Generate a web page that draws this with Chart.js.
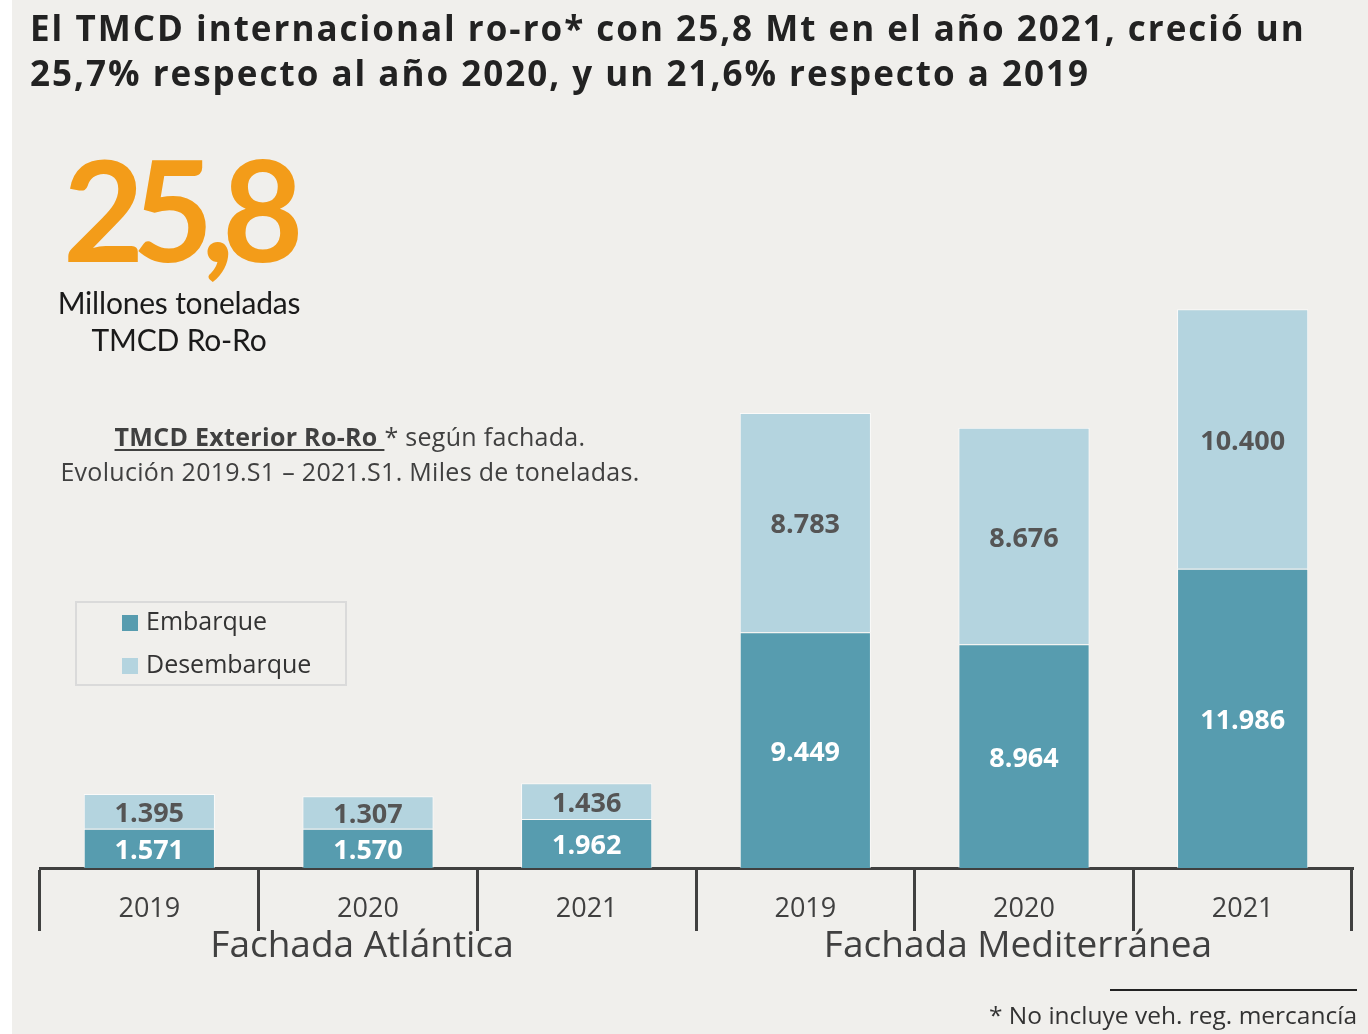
<!DOCTYPE html>
<html lang="es">
<head>
<meta charset="utf-8">
<title>TMCD Exterior Ro-Ro</title>
<script src="https://cdn.jsdelivr.net/npm/chart.js"></script>
<style>
  html, body { margin: 0; padding: 0; background: #fff; }
  #page { position: relative; width: 1368px; height: 1034px; overflow: hidden; font-family: "Open Sans", sans-serif; }
  #bg { position: absolute; left: 12px; top: 0; right: 0; bottom: 0; background: #f0efec; }
  #myChart { position: absolute; left: 0; top: 0; }
  .txt { position: absolute; white-space: nowrap; }
  #title { left: 30px; top: 5px; font-weight: 700; font-size: 35px; line-height: 45px; color: #222; letter-spacing: 2px; }
  #big { left: 63px; top: 138px; font-family: Lato, sans-serif; font-weight: 700; font-size: 140px; line-height: 140px; color: #f39c19; letter-spacing: -12px; }
  #unit { left: 29px; width: 300px; top: 284px; text-align: center; font-family: Lato, sans-serif; font-size: 30px; line-height: 37px; color: #1a1a1a; letter-spacing: -0.2px; }
  #sub { left: 50px; width: 600px; top: 419px; text-align: center; font-size: 25px; line-height: 35px; color: #404040; letter-spacing: 0.3px; }
  #sub b { text-decoration: underline; text-decoration-thickness: 2px; text-underline-offset: 3px; }
  #legend { position: absolute; left: 75px; top: 601px; width: 268px; height: 81px; border: 2px solid #dadada; }
  .item { position: absolute; left: 45px; font-size: 25px; line-height: 30px; color: #333; }
  .sw { display: inline-block; width: 16px; height: 16px; margin-right: 8px; vertical-align: -1px; }
  #footline { position: absolute; left: 1110px; top: 989px; width: 247px; height: 2px; background: #222; }
  #foot { right: 11px; top: 999px; font-size: 24.5px; line-height: 32px; color: #333; }
</style>
</head>
<body>
<div id="page">
  <div id="bg"></div>
  <canvas id="myChart" width="1368" height="1034"></canvas>
  <div class="txt" id="title">El TMCD internacional ro-ro* con 25,8 Mt en el año 2021, creció un<br>25,7% respecto al año 2020, y un 21,6% respecto a 2019</div>
  <div class="txt" id="big">25,8</div>
  <div class="txt" id="unit">Millones toneladas<br>TMCD Ro-Ro</div>
  <div class="txt" id="sub"><b>TMCD Exterior Ro-Ro </b>* según fachada.<br>Evolución 2019.S1 – 2021.S1. Miles de toneladas.</div>
  <div id="legend"></div>
  <div id="footline"></div>
  <div class="txt" id="foot">* No incluye veh. reg. mercancía</div>
</div>
<script>
var years = ["2019", "2020", "2021", "2019", "2020", "2021"];
var fachadas = ["Fachada Atlántica", "Fachada Mediterránea"];
var embarque = [1571, 1570, 1962, 9449, 8964, 11986];
var desembarque = [1395, 1307, 1436, 8783, 8676, 10400];
var seriesNames = ["Embarque", "Desembarque"];
var seriesColors = ["#579caf", "#b4d4df"];
var labelColors = ["#ffffff", "#555555"];

function fmt(v) {
  return String(v).replace(/\B(?=(\d{3})+(?!\d))/g, ".");
}

// numbers inside each bar segment
var valueLabels = {
  id: "valueLabels",
  afterDatasetsDraw(chart) {
    var ctx = chart.ctx;
    chart.data.datasets.forEach((ds, i) => {
      chart.getDatasetMeta(i).data.forEach((bar, j) => {
        ctx.save();
        ctx.font = "bold 27px 'Open Sans'";
        ctx.fillStyle = labelColors[i];
        ctx.textAlign = "center";
        ctx.textBaseline = "middle";
        ctx.fillText(fmt(ds.data[j]), bar.x, (bar.y + bar.base) / 2 + 3);
        ctx.restore();
      });
    });
  }
};

// html legend
var legend = document.getElementById("legend");
seriesNames.forEach((name, i) => {
  var el = document.createElement("div");
  el.className = "item";
  el.style.top = (2 + i * 43) + "px";
  el.innerHTML = '<span class="sw" style="background:' + seriesColors[i] + '"></span>' + name;
  legend.appendChild(el);
});

window.addEventListener("load", function () {
  var ctx = document.getElementById("myChart");
  var chart = new Chart(ctx, {
    type: "bar",
    data: {
      labels: years,
      datasets: [
        {
          label: seriesNames[0],
          data: embarque,
          backgroundColor: seriesColors[0],
          borderColor: "rgba(255,255,255,0.6)",
          borderWidth: 1
        },
        {
          label: seriesNames[1],
          data: desembarque,
          backgroundColor: seriesColors[1],
          borderColor: "rgba(255,255,255,0.7)",
          borderWidth: 1
        }
      ]
    },
    options: {
      responsive: false,
      animation: false,
      events: [],
      layout: { padding: { left: 40, right: 16, top: 244, bottom: 51 } },
      datasets: { bar: { categoryPercentage: 1, barPercentage: 0.6 } },
      plugins: { legend: { display: false }, tooltip: { enabled: false } },
      scales: {
        y: { display: false, stacked: true, min: 0, max: 25000 },
        x: {
          stacked: true,
          grid: { display: true, drawOnChartArea: false, drawTicks: true, tickLength: 63, color: "#404040", lineWidth: 3, offset: true },
          border: { display: true, color: "#404040", width: 3 },
          ticks: { color: "#404040", font: { family: "'Open Sans'", size: 27 }, padding: -38 },
          afterFit: (s) => { s.height = 55; }
        },
        x2: {
          type: "category",
          labels: fachadas,
          position: "bottom",
          offset: true,
          grid: { display: false },
          border: { display: false },
          ticks: { color: "#404040", font: { family: "'Open Sans'", size: 37 }, padding: -7, labelOffset: -6 },
          afterFit: (s) => { s.height = 60; }
        }
      }
    },
    plugins: [valueLabels]
  });
});
</script>
</body>
</html>
